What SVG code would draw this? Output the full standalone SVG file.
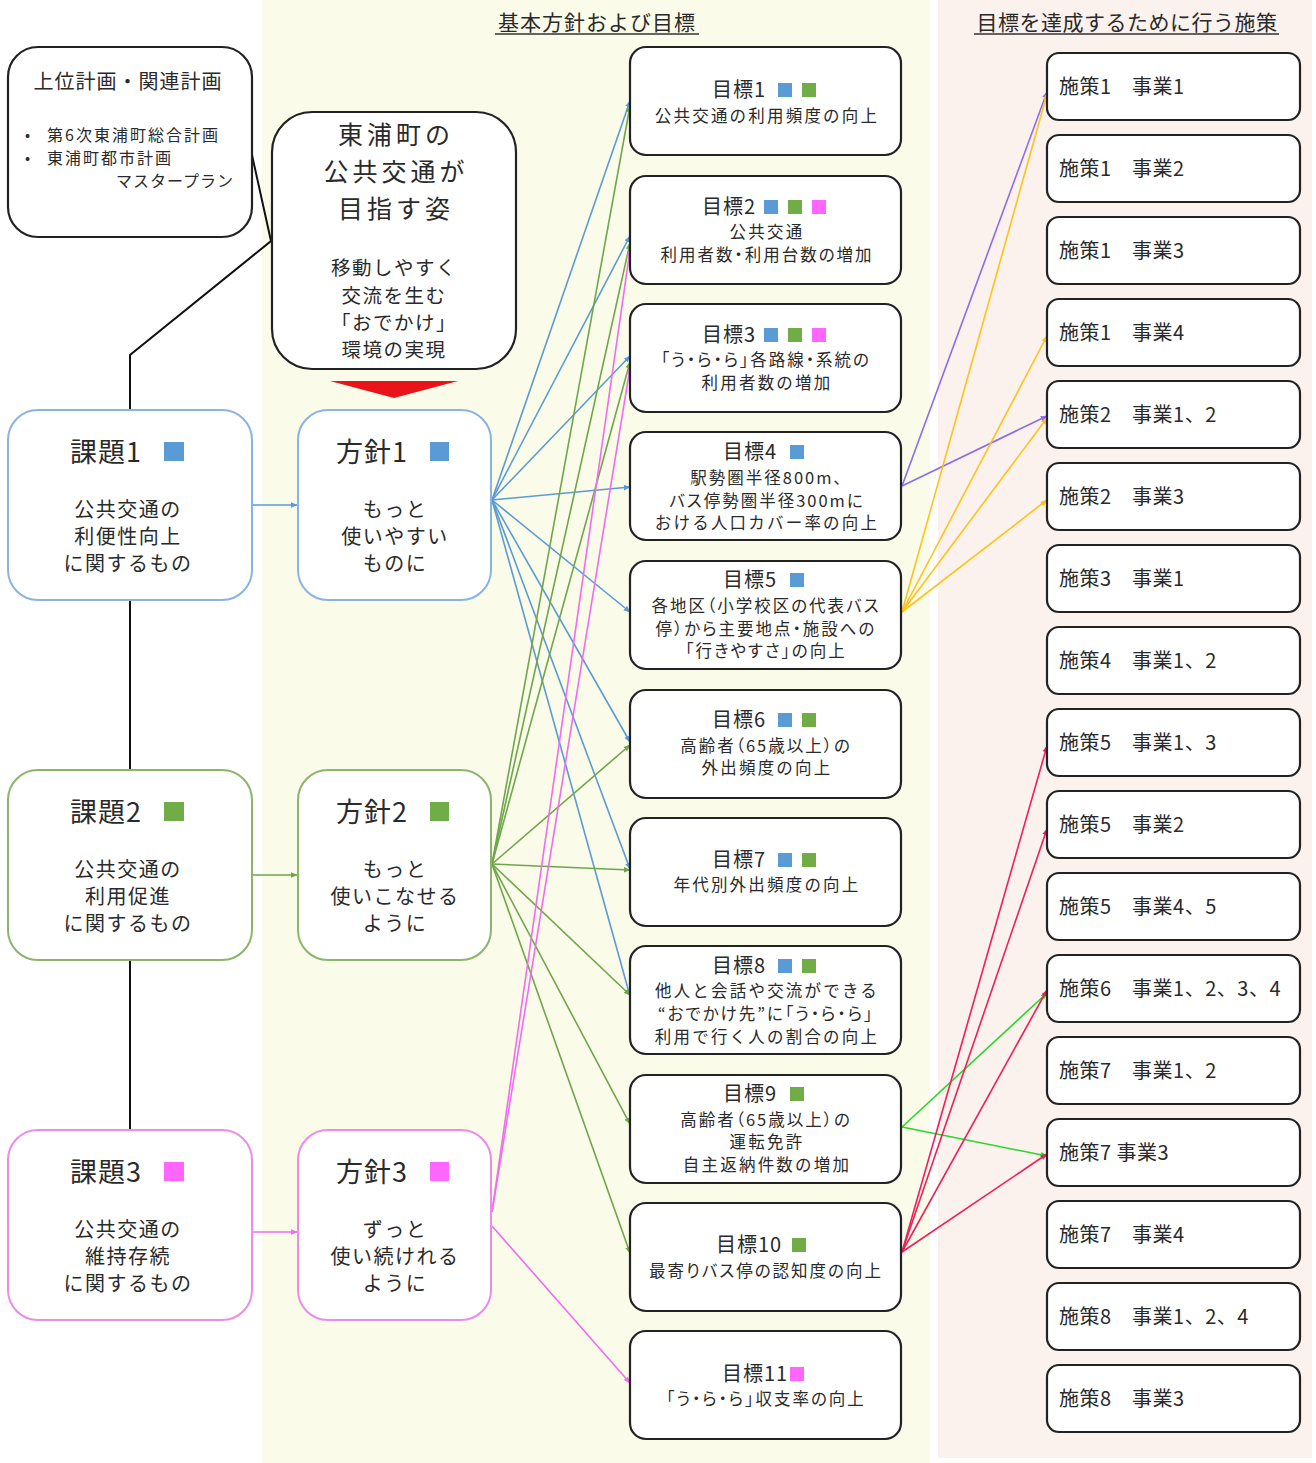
<svg xmlns="http://www.w3.org/2000/svg" width="1316" height="1463" viewBox="0 0 1316 1463">
<defs>
<style>
text{font-family:"Noto Sans CJK JP","Noto Sans",sans-serif;fill:#2a2a2a;}
.box{fill:#fff;stroke:#222;stroke-width:2.2;}
.kb{fill:#fff;stroke-width:2;}
.t20{font-size:20px;letter-spacing:1px;}
.gt{font-size:20px;letter-spacing:1px;}
.gb{font-size:16.5px;letter-spacing:2.2px;text-anchor:middle;}
.pa{font-feature-settings:"palt";letter-spacing:2px;}
.ms{font-size:20px;letter-spacing:0.5px;}
.mid{text-anchor:middle;}
.big{font-size:27px;letter-spacing:1px;}
.vt{font-size:25px;letter-spacing:4px;text-anchor:middle;}
.sub{font-size:20px;letter-spacing:1.5px;text-anchor:middle;}
.cb{stroke:#5b9bd5;stroke-width:1.6;fill:none;}
.cg{stroke:#6fa64c;stroke-width:1.6;fill:none;}
.cp{stroke:#f06cf0;stroke-width:1.6;fill:none;}
.cv{stroke:#8a6cf0;stroke-width:1.6;fill:none;}
.cy{stroke:#ffc21a;stroke-width:1.6;fill:none;}
.cl{stroke:#2ad62a;stroke-width:1.6;fill:none;}
.cr{stroke:#ee1e5a;stroke-width:1.6;fill:none;}
.bk{stroke:#111;stroke-width:2;fill:none;}
.sqb{fill:#5b9bd5;}
.sqg{fill:#70ad47;}
.sqp{fill:#ff66ff;}
</style>
<marker id="ab" viewBox="0 0 10 10" refX="9" refY="5" markerWidth="7" markerHeight="7" markerUnits="userSpaceOnUse" orient="auto"><path d="M0,1 L10,5 L0,9 z" fill="#5b9bd5"/></marker>
<marker id="ag" viewBox="0 0 10 10" refX="9" refY="5" markerWidth="7" markerHeight="7" markerUnits="userSpaceOnUse" orient="auto"><path d="M0,1 L10,5 L0,9 z" fill="#6fa64c"/></marker>
<marker id="ap" viewBox="0 0 10 10" refX="9" refY="5" markerWidth="7" markerHeight="7" markerUnits="userSpaceOnUse" orient="auto"><path d="M0,1 L10,5 L0,9 z" fill="#f06cf0"/></marker>
<marker id="av" viewBox="0 0 10 10" refX="9" refY="5" markerWidth="7" markerHeight="7" markerUnits="userSpaceOnUse" orient="auto"><path d="M0,1 L10,5 L0,9 z" fill="#8a6cf0"/></marker>
<marker id="ay" viewBox="0 0 10 10" refX="9" refY="5" markerWidth="7" markerHeight="7" markerUnits="userSpaceOnUse" orient="auto"><path d="M0,1 L10,5 L0,9 z" fill="#ffc21a"/></marker>
<marker id="al" viewBox="0 0 10 10" refX="9" refY="5" markerWidth="7" markerHeight="7" markerUnits="userSpaceOnUse" orient="auto"><path d="M0,1 L10,5 L0,9 z" fill="#2ad62a"/></marker>
<marker id="ar" viewBox="0 0 10 10" refX="9" refY="5" markerWidth="7" markerHeight="7" markerUnits="userSpaceOnUse" orient="auto"><path d="M0,1 L10,5 L0,9 z" fill="#ee1e5a"/></marker>
</defs>

<rect x="0" y="0" width="1316" height="1463" fill="#fff"/>
<g id="panels">
<rect x="262" y="0" width="668" height="1463" fill="#fafbe9"/>
<rect x="938" y="0" width="374" height="1458" fill="#fbf1ed"/>
<text x="597" y="30" class="mid" style="font-size:21px;letter-spacing:1px">基本方針および目標</text>
<line x1="495" y1="34" x2="699" y2="34" stroke="#333" stroke-width="1.5"/>
<text x="1127" y="30" class="mid" style="font-size:21px;letter-spacing:0.5px">目標を達成するために行う施策</text>
<line x1="974" y1="34" x2="1279" y2="34" stroke="#333" stroke-width="1.5"/>
</g>

<g id="connectors">
<polyline class="bk" points="250,146 271,241 130,355 130,410"/>
<line class="bk" x1="130" y1="600" x2="130" y2="770"/>
<line class="bk" x1="130" y1="960" x2="130" y2="1130"/>
<line class="cb" x1="252" y1="505" x2="297" y2="505" marker-end="url(#ab)" stroke="#8ab4e0"/>
<line class="cg" x1="252" y1="875" x2="297" y2="875" marker-end="url(#ag)"/>
<line class="cp" x1="252" y1="1232" x2="297" y2="1232" marker-end="url(#ap)"/>
<line class="cb" x1="492" y1="500" x2="630" y2="101" marker-end="url(#ab)"/>
<line class="cb" x1="492" y1="500" x2="630" y2="236" marker-end="url(#ab)"/>
<line class="cb" x1="492" y1="500" x2="630" y2="356" marker-end="url(#ab)"/>
<line class="cb" x1="492" y1="500" x2="630" y2="487" marker-end="url(#ab)"/>
<line class="cb" x1="492" y1="500" x2="630" y2="612" marker-end="url(#ab)"/>
<line class="cb" x1="492" y1="500" x2="630" y2="742" marker-end="url(#ab)"/>
<line class="cb" x1="492" y1="500" x2="630" y2="869" marker-end="url(#ab)"/>
<line class="cb" x1="492" y1="500" x2="630" y2="996" marker-end="url(#ab)"/>
<line class="cg" x1="492" y1="864" x2="630" y2="106" marker-end="url(#ag)"/>
<line class="cg" x1="492" y1="864" x2="630" y2="243" marker-end="url(#ag)"/>
<line class="cg" x1="492" y1="864" x2="630" y2="362" marker-end="url(#ag)"/>
<line class="cg" x1="492" y1="864" x2="630" y2="745" marker-end="url(#ag)"/>
<line class="cg" x1="492" y1="864" x2="630" y2="870" marker-end="url(#ag)"/>
<line class="cg" x1="492" y1="864" x2="630" y2="995" marker-end="url(#ag)"/>
<line class="cg" x1="492" y1="864" x2="630" y2="1124" marker-end="url(#ag)"/>
<line class="cg" x1="492" y1="864" x2="630" y2="1253" marker-end="url(#ag)"/>
<line class="cp" x1="492" y1="1212" x2="630" y2="250" marker-end="url(#ap)"/>
<line class="cp" x1="492" y1="1212" x2="630" y2="368" marker-end="url(#ap)"/>
<line class="cp" x1="492" y1="1226" x2="630" y2="1383" marker-end="url(#ap)"/>
<line class="cv" x1="902" y1="486" x2="1047" y2="92" marker-end="url(#av)"/>
<line class="cv" x1="902" y1="486" x2="1047" y2="416" marker-end="url(#av)"/>
<line class="cy" x1="902" y1="612" x2="1047" y2="94" marker-end="url(#ay)"/>
<line class="cy" x1="902" y1="612" x2="1047" y2="336" marker-end="url(#ay)"/>
<line class="cy" x1="902" y1="612" x2="1047" y2="418" marker-end="url(#ay)"/>
<line class="cy" x1="902" y1="612" x2="1047" y2="500" marker-end="url(#ay)"/>
<line class="cl" x1="902" y1="1127" x2="1047" y2="993" marker-end="url(#al)"/>
<line class="cl" x1="902" y1="1127" x2="1047" y2="1156" marker-end="url(#al)"/>
<line class="cr" x1="902" y1="1252" x2="1047" y2="746" marker-end="url(#ar)"/>
<line class="cr" x1="902" y1="1252" x2="1047" y2="829" marker-end="url(#ar)"/>
<line class="cr" x1="902" y1="1252" x2="1047" y2="990" marker-end="url(#ar)"/>
<line class="cr" x1="902" y1="1252" x2="1047" y2="1154" marker-end="url(#ar)"/>
</g>

<g id="plans">
<rect class="box" x="8" y="47" width="244" height="190" rx="30"/>
<text x="128" y="89" class="mid t20">上位計画・関連計画</text>
<text x="25" y="140" style="font-size:15px">•</text>
<text x="47" y="141" style="font-size:16px;letter-spacing:2px">第6次東浦町総合計画</text>
<text x="25" y="163" style="font-size:15px">•</text>
<text x="47" y="164" style="font-size:16px;letter-spacing:2px">東浦町都市計画</text>
<text x="234" y="187" style="font-size:16px;letter-spacing:1px;text-anchor:end">マスタープラン</text>
</g>

<g id="vision">
<rect class="box" x="272" y="112" width="244" height="257" rx="40"/>
<text x="396" y="144" class="vt">東浦町の</text>
<text x="396" y="181" class="vt">公共交通が</text>
<text x="396" y="218" class="vt">目指す姿</text>
<text x="394" y="275" class="sub" style="font-size:19.5px">移動しやすく</text>
<text x="394" y="303" class="sub" style="font-size:19.5px">交流を生む</text>
<text x="394" y="330" class="sub" style="font-size:19.5px">「おでかけ」</text>
<text x="394" y="357" class="sub" style="font-size:19.5px">環境の実現</text>
<polygon points="330,381 458,381 394,398" fill="#e8141a"/>
</g>

<g id="kadai1">
<rect class="kb" x="8" y="410" width="244" height="190" rx="30" stroke="#8ab4e0"/>
<text x="70" y="462" class="big">課題1</text>
<rect class="sqb" x="164" y="442" width="20" height="19"/>
<text x="128" y="517" class="sub">公共交通の</text>
<text x="128" y="544" class="sub">利便性向上</text>
<text x="128" y="571" class="sub">に関するもの</text>
</g>
<g id="kadai2">
<rect class="kb" x="8" y="770" width="244" height="190" rx="30" stroke="#8cb46c"/>
<text x="70" y="822" class="big">課題2</text>
<rect class="sqg" x="164" y="802" width="20" height="19"/>
<text x="128" y="877" class="sub">公共交通の</text>
<text x="128" y="904" class="sub">利用促進</text>
<text x="128" y="931" class="sub">に関するもの</text>
</g>
<g id="kadai3">
<rect class="kb" x="8" y="1130" width="244" height="190" rx="30" stroke="#ea8cea"/>
<text x="70" y="1182" class="big">課題3</text>
<rect class="sqp" x="164" y="1162" width="20" height="19"/>
<text x="128" y="1237" class="sub">公共交通の</text>
<text x="128" y="1264" class="sub">維持存続</text>
<text x="128" y="1291" class="sub">に関するもの</text>
</g>

<g id="hoshin1">
<rect class="kb" x="298" y="410" width="193" height="190" rx="30" stroke="#8ab4e0"/>
<text x="336" y="462" class="big">方針1</text>
<rect class="sqb" x="430" y="442" width="19" height="19"/>
<text x="395" y="517" class="sub">もっと</text>
<text x="395" y="544" class="sub">使いやすい</text>
<text x="395" y="571" class="sub">ものに</text>
</g>
<g id="hoshin2">
<rect class="kb" x="298" y="770" width="193" height="190" rx="30" stroke="#8cb46c"/>
<text x="336" y="822" class="big">方針2</text>
<rect class="sqg" x="430" y="802" width="19" height="19"/>
<text x="395" y="877" class="sub">もっと</text>
<text x="395" y="904" class="sub">使いこなせる</text>
<text x="395" y="931" class="sub">ように</text>
</g>
<g id="hoshin3">
<rect class="kb" x="298" y="1130" width="193" height="190" rx="30" stroke="#ea8cea"/>
<text x="336" y="1182" class="big">方針3</text>
<rect class="sqp" x="430" y="1162" width="19" height="19"/>
<text x="395" y="1237" class="sub">ずっと</text>
<text x="395" y="1264" class="sub">使い続けれる</text>
<text x="395" y="1291" class="sub">ように</text>
</g>

<g id="goal1">
<rect class="box" x="630" y="47" width="271" height="108" rx="16"/>
<text x="712" y="97" class="gt">目標1</text>
<rect class="sqb" x="778" y="83" width="14" height="14"/><rect class="sqg" x="802" y="83" width="14" height="14"/>
<text x="767" y="122" class="gb">公共交通の利用頻度の向上</text>
</g>
<g id="goal2">
<rect class="box" x="630" y="176" width="271" height="108" rx="16"/>
<text x="702" y="214" class="gt">目標2</text>
<rect class="sqb" x="764" y="200" width="14" height="14"/><rect class="sqg" x="788" y="200" width="14" height="14"/><rect class="sqp" x="812" y="200" width="14" height="14"/>
<text x="767" y="238" class="gb">公共交通</text>
<text x="767" y="261" class="gb pa">利用者数・利用台数の増加</text>
</g>
<g id="goal3">
<rect class="box" x="630" y="304" width="271" height="108" rx="16"/>
<text x="702" y="342" class="gt">目標3</text>
<rect class="sqb" x="764" y="328" width="14" height="14"/><rect class="sqg" x="788" y="328" width="14" height="14"/><rect class="sqp" x="812" y="328" width="14" height="14"/>
<text x="766" y="366" class="gb pa">「う・ら・ら」各路線・系統の</text>
<text x="767" y="389" class="gb">利用者数の増加</text>
</g>
<g id="goal4">
<rect class="box" x="630" y="432" width="271" height="108" rx="16"/>
<text x="723" y="459" class="gt">目標4</text>
<rect class="sqb" x="790" y="445" width="14" height="14"/>
<text x="767" y="484" class="gb pa">駅勢圏半径800m、</text>
<text x="767" y="507" class="gb pa">バス停勢圏半径300mに</text>
<text x="767" y="529" class="gb">おける人口カバー率の向上</text>
</g>
<g id="goal5">
<rect class="box" x="630" y="561" width="271" height="108" rx="16"/>
<text x="723" y="587" class="gt">目標5</text>
<rect class="sqb" x="790" y="573" width="14" height="14"/>
<text x="766" y="612" class="gb pa">各地区（小学校区の代表バス</text>
<text x="766" y="635" class="gb pa">停）から主要地点・施設への</text>
<text x="766" y="657" class="gb pa">「行きやすさ」の向上</text>
</g>
<g id="goal6">
<rect class="box" x="630" y="690" width="271" height="108" rx="16"/>
<text x="712" y="727" class="gt">目標6</text>
<rect class="sqb" x="778" y="713" width="14" height="14"/><rect class="sqg" x="802" y="713" width="14" height="14"/>
<text x="766" y="752" class="gb pa">高齢者（65歳以上）の</text>
<text x="767" y="774" class="gb">外出頻度の向上</text>
</g>
<g id="goal7">
<rect class="box" x="630" y="818" width="271" height="108" rx="16"/>
<text x="712" y="867" class="gt">目標7</text>
<rect class="sqb" x="778" y="853" width="14" height="14"/><rect class="sqg" x="802" y="853" width="14" height="14"/>
<text x="767" y="891" class="gb">年代別外出頻度の向上</text>
</g>
<g id="goal8">
<rect class="box" x="630" y="946" width="271" height="108" rx="16"/>
<text x="712" y="973" class="gt">目標8</text>
<rect class="sqb" x="778" y="959" width="14" height="14"/><rect class="sqg" x="802" y="959" width="14" height="14"/>
<text x="767" y="997" class="gb">他人と会話や交流ができる</text>
<text x="766" y="1020" class="gb pa">“おでかけ先”に「う・ら・ら」</text>
<text x="767" y="1043" class="gb">利用で行く人の割合の向上</text>
</g>
<g id="goal9">
<rect class="box" x="630" y="1075" width="271" height="108" rx="16"/>
<text x="723" y="1101" class="gt">目標9</text>
<rect class="sqg" x="790" y="1087" width="14" height="14"/>
<text x="766" y="1126" class="gb pa">高齢者（65歳以上）の</text>
<text x="767" y="1148" class="gb">運転免許</text>
<text x="767" y="1171" class="gb">自主返納件数の増加</text>
</g>
<g id="goal10">
<rect class="box" x="630" y="1203" width="271" height="108" rx="16"/>
<text x="716" y="1252" class="gt">目標10</text>
<rect class="sqg" x="792" y="1238" width="14" height="14"/>
<text x="766" y="1277" class="gb pa">最寄りバス停の認知度の向上</text>
</g>
<g id="goal11">
<rect class="box" x="630" y="1331" width="271" height="108" rx="16"/>
<text x="722" y="1381" class="gt">目標11</text>
<rect class="sqp" x="790" y="1367" width="14" height="14"/>
<text x="766" y="1405" class="gb pa">「う・ら・ら」収支率の向上</text>
</g>

<g id="measure1"><rect class="box" x="1047" y="53" width="253" height="67" rx="12"/><text x="1059" y="94" class="ms">施策1　事業1</text></g>
<g id="measure2"><rect class="box" x="1047" y="135" width="253" height="67" rx="12"/><text x="1059" y="176" class="ms">施策1　事業2</text></g>
<g id="measure3"><rect class="box" x="1047" y="217" width="253" height="67" rx="12"/><text x="1059" y="258" class="ms">施策1　事業3</text></g>
<g id="measure4"><rect class="box" x="1047" y="299" width="253" height="67" rx="12"/><text x="1059" y="340" class="ms">施策1　事業4</text></g>
<g id="measure5"><rect class="box" x="1047" y="381" width="253" height="67" rx="12"/><text x="1059" y="422" class="ms">施策2　事業1、2</text></g>
<g id="measure6"><rect class="box" x="1047" y="463" width="253" height="67" rx="12"/><text x="1059" y="504" class="ms">施策2　事業3</text></g>
<g id="measure7"><rect class="box" x="1047" y="545" width="253" height="67" rx="12"/><text x="1059" y="586" class="ms">施策3　事業1</text></g>
<g id="measure8"><rect class="box" x="1047" y="627" width="253" height="67" rx="12"/><text x="1059" y="668" class="ms">施策4　事業1、2</text></g>
<g id="measure9"><rect class="box" x="1047" y="709" width="253" height="67" rx="12"/><text x="1059" y="750" class="ms">施策5　事業1、3</text></g>
<g id="measure10"><rect class="box" x="1047" y="791" width="253" height="67" rx="12"/><text x="1059" y="832" class="ms">施策5　事業2</text></g>
<g id="measure11"><rect class="box" x="1047" y="873" width="253" height="67" rx="12"/><text x="1059" y="914" class="ms">施策5　事業4、5</text></g>
<g id="measure12"><rect class="box" x="1047" y="955" width="253" height="67" rx="12"/><text x="1059" y="996" class="ms">施策6　事業1、2、3、4</text></g>
<g id="measure13"><rect class="box" x="1047" y="1037" width="253" height="67" rx="12"/><text x="1059" y="1078" class="ms">施策7　事業1、2</text></g>
<g id="measure14"><rect class="box" x="1047" y="1119" width="253" height="67" rx="12"/><text x="1059" y="1160" class="ms">施策7 事業3</text></g>
<g id="measure15"><rect class="box" x="1047" y="1201" width="253" height="67" rx="12"/><text x="1059" y="1242" class="ms">施策7　事業4</text></g>
<g id="measure16"><rect class="box" x="1047" y="1283" width="253" height="67" rx="12"/><text x="1059" y="1324" class="ms">施策8　事業1、2、4</text></g>
<g id="measure17"><rect class="box" x="1047" y="1365" width="253" height="67" rx="12"/><text x="1059" y="1406" class="ms">施策8　事業3</text></g>
</svg>
